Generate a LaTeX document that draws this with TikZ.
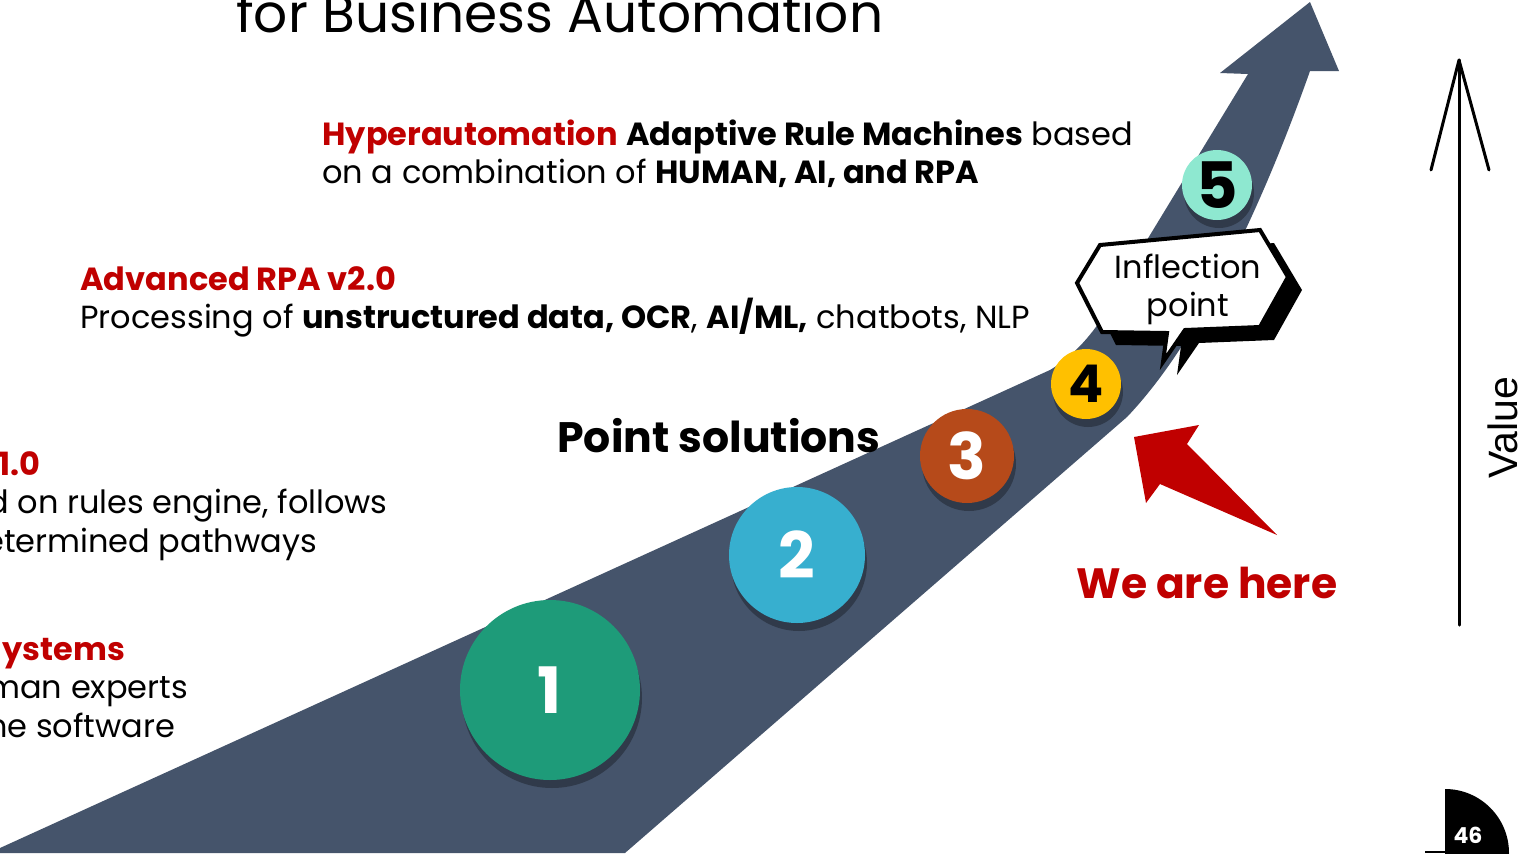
\documentclass[tikz,border=0pt]{standalone}
\usepackage{fontspec}
\setmainfont{Poppins}
\newfontfamily\valuefont{Liberation Sans}
\usetikzlibrary{shadows}
\definecolor{roadgray}{RGB}{69,84,107}
\definecolor{hired}{RGB}{192,0,0}
\definecolor{cone}{RGB}{30,155,121}
\definecolor{ctwo}{RGB}{55,175,207}
\definecolor{cthree}{RGB}{182,74,26}
\definecolor{cfour}{RGB}{255,192,0}
\definecolor{cfive}{RGB}{142,232,208}
\newcommand{\fsz}[2]{\fontsize{#1}{#2}\selectfont}

\begin{document}
\begin{tikzpicture}[x=0.5pt,y=-0.5pt,
    txt/.style={anchor=base west, inner sep=0pt, font=\fsz{16}{19}},
    hd/.style={txt, text=hired, font=\fsz{16}{19}\bfseries},
    stepdot/.style={circle, inner sep=0pt, minimum size=#1, font=\fsz{32}{32}\bfseries,
      drop shadow={shadow xshift=1pt, shadow yshift=-4pt, opacity=.3, fill=black}}]
    \clip (0,0) rectangle (1528,853);
    \fill[white] (0,0) rectangle (1528,853);
    % the road
    \fill[roadgray] (0,853) -- (0,848) -- (1050,370) .. controls (1100,340) and (1120,285) .. (1150,235)
      -- (1248,74) -- (1220,73) -- (1310,2) -- (1339,71) -- (1310,71)
      .. controls (1275,170) and (1210,330) .. (1127,417) -- (625,853) -- cycle;
    \node[stepdot=90pt, fill=cone, text=white] (s1) at (550,690) {1};
    \node[stepdot=68pt, fill=ctwo, text=white] (s2) at (797,555) {2};
    \node[stepdot=47pt, fill=cthree, text=white] (s3) at (967,456) {3};
    \node[stepdot=35pt, fill=cfour, font=\fsz{26}{26}\bfseries] (s4) at (1086,384) {4};
    \node[stepdot=35pt, fill=cfive] (s5) at (1217,185) {5};
    % callout
    \fill[shift={(14,13)}] (1100,245) -- (1260,230) -- (1288,277) -- (1260,327) -- (1185,330)
      -- (1163,362) -- (1167,333) -- (1102,332) -- (1077,283) -- cycle;
    \draw[line width=2pt, fill=white] (1100,245) -- (1260,230) -- (1288,277) -- (1260,327) -- (1185,330)
      -- (1163,362) -- (1167,333) -- (1102,332) -- (1077,283) -- cycle;
    \node[align=center, inner sep=0pt, font=\fsz{16}{19}] (infl) at (1188,289) {Inflection\\point};
    \fill[hired] (1134,437) -- (1199,425) -- (1187,444) -- (1277,535) -- (1160,484) -- (1146,503) -- cycle;
    \node[txt, text=hired, font=\fsz{21.2}{25}\bfseries] (here) at (1076,598) {We are here};
    % texts
    \node[txt, font=\fsz{26.7}{30}] (title) at (236,32) {for Business Automation};
    \node[txt] (h1) at (322,145) {{\color{hired}\bfseries Hyperautomation} \textbf{Adaptive Rule Machines} based};
    \node[txt] (h2) at (322,183) {on a combination of \textbf{HUMAN, AI, and RPA}};
    \node[hd] (a1) at (80,290) {Advanced RPA v2.0};
    \node[txt] (a2) at (80,328) {Processing of \textbf{unstructured data, OCR}, \textbf{AI/ML,} chatbots, NLP};
    \node[txt, font=\fsz{21.3}{25}\bfseries] (ps) at (557,452) {Point solutions};
    \node[hd] (r1) at (-2,475) {1.0};
    \node[txt] (r2) at (-13,513) {d on rules engine, follows};
    \node[txt] (r3) at (-16,552) {etermined pathways};
    \node[hd] (e1) at (2,660) {ystems};
    \node[txt] (e2) at (-13,698) {man experts};
    \node[txt] (e3) at (-13,737) {he software};
    % value axis
    \coordinate (vbot) at (1459,625);
    \coordinate (vtop) at (1459,60);
    \draw[line width=1.5pt, line cap=round] (vbot) -- (vtop);
    \draw[line width=1.5pt, line cap=round, line join=round] (1431,170) -- (vtop) -- (1489,170);
    \node[rotate=90, inner sep=0pt, font=\valuefont\fsz{20.5}{24}] (val) at (1503,428) {Value};
    % page badge
    \begin{scope}
      \clip (1445,700) rectangle (1528,853);
      \fill (1445,853) circle (64);
    \end{scope}
    \draw[line width=0.8pt] (1425,852) -- (1445,852);
    \node[text=white, inner sep=0pt, font=\fsz{11}{13}\bfseries] (pg) at (1468,835) {46};
  \end{tikzpicture}
\end{document}
